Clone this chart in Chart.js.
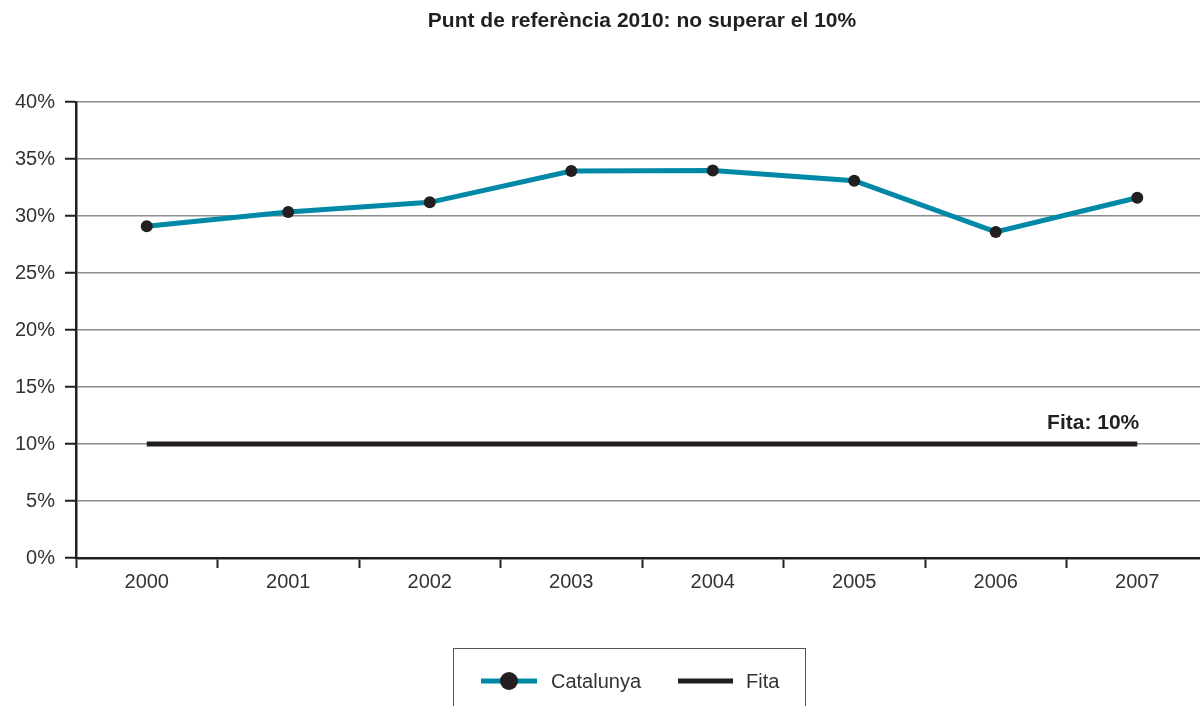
<!DOCTYPE html>
<html>
<head>
<meta charset="utf-8">
<script src="https://cdn.jsdelivr.net/npm/chart.js@4"></script>
<style>
    html, body { margin: 0; padding: 0; background: #fff; overflow: hidden; }
    #chart { display: block; }
</style>
</head>
<body>
<canvas id="chart" width="1214" height="706"></canvas>
<script>
// -------- Dades --------
const years = ['2000', '2001', '2002', '2003', '2004', '2005', '2006', '2007'];
const catalunya = [29.1, 30.35, 31.2, 33.95, 34.0, 33.1, 28.6, 31.6];
const fita = [10, 10, 10, 10, 10, 10, 10, 10];
const chartTitle = 'Punt de referència 2010: no superar el 10%';
const fitaLabel = 'Fita: 10%';
const legendLabels = ['Catalunya', 'Fita'];

const TEAL = '#0089a6';
const DARK = '#231f20';
const FONT = '"Liberation Sans", Arial, sans-serif';

// -------- Títol, etiqueta i llegenda --------
const extras = {
    id: 'extras',
    afterDraw(chart) {
        const { ctx, chartArea, scales } = chart;
        ctx.save();

        // títol
        ctx.fillStyle = DARK;
        ctx.font = 'bold 21px ' + FONT;
        ctx.textAlign = 'center';
        ctx.textBaseline = 'middle';
        ctx.fillText(chartTitle, (chartArea.left + chartArea.right) / 2, 21);

        // etiqueta fita
        const lastX = scales.x.getPixelForValue(years.length - 1);
        const fitaY = scales.y.getPixelForValue(fita[fita.length - 1]);
        ctx.textAlign = 'right';
        ctx.textBaseline = 'alphabetic';
        ctx.fillText(fitaLabel, lastX + 2, fitaY - 15);

        // llegenda
        ctx.strokeStyle = '#555';
        ctx.lineWidth = 1;
        ctx.strokeRect(453.5, 648.5, 352, 70);

        ctx.lineCap = 'butt';
        ctx.strokeStyle = TEAL;
        ctx.lineWidth = 5;
        ctx.beginPath();
        ctx.moveTo(481, 681);
        ctx.lineTo(537, 681);
        ctx.stroke();
        ctx.fillStyle = DARK;
        ctx.beginPath();
        ctx.arc(509, 681, 9, 0, Math.PI * 2);
        ctx.fill();

        ctx.strokeStyle = DARK;
        ctx.beginPath();
        ctx.moveTo(678, 681);
        ctx.lineTo(733, 681);
        ctx.stroke();

        ctx.fillStyle = '#333';
        ctx.font = '20px ' + FONT;
        ctx.textAlign = 'left';
        ctx.textBaseline = 'middle';
        ctx.fillText(legendLabels[0], 551, 682);
        ctx.fillText(legendLabels[1], 746, 682);

        ctx.restore();
    }
};

new Chart(document.getElementById('chart'), {
    type: 'line',
    data: {
        labels: years,
        datasets: [
            {
                label: legendLabels[1],
                data: fita,
                borderColor: DARK,
                borderWidth: 5,
                pointRadius: 0,
                order: 2
            },
            {
                label: legendLabels[0],
                data: catalunya,
                borderColor: TEAL,
                borderWidth: 5,
                pointRadius: 6,
                pointBackgroundColor: DARK,
                pointBorderColor: DARK,
                pointBorderWidth: 0,
                order: 1
            }
        ]
    },
    options: {
        responsive: false,
        animation: false,
        layout: { padding: { top: 102, right: 1, left: 0, bottom: 0 } },
        plugins: {
            legend: { display: false },
            title: { display: false },
            tooltip: { enabled: false }
        },
        scales: {
            x: {
                offset: true,
                grid: {
                    offset: true,
                    drawOnChartArea: false,
                    drawTicks: true,
                    tickLength: 10,
                    tickColor: DARK,
                    tickWidth: 2
                },
                border: { display: true, color: DARK, width: 2.5 },
                ticks: {
                    color: '#333',
                    font: { family: FONT, size: 20 },
                    padding: 2,
                    maxRotation: 0
                },
                afterFit(scale) { scale.height = 148; }
            },
            y: {
                min: 0,
                max: 40,
                ticks: {
                    stepSize: 5,
                    color: '#333',
                    font: { family: FONT, size: 20 },
                    padding: 10,
                    callback: v => v + '%'
                },
                grid: {
                    color: '#8c8c8c',
                    lineWidth: 1.5,
                    tickColor: DARK,
                    tickLength: 11,
                    tickWidth: 2
                },
                border: { display: true, color: DARK, width: 2.5 },
                afterFit(scale) { scale.width = 76; }
            }
        }
    },
    plugins: [extras]
});
</script>
</body>
</html>
